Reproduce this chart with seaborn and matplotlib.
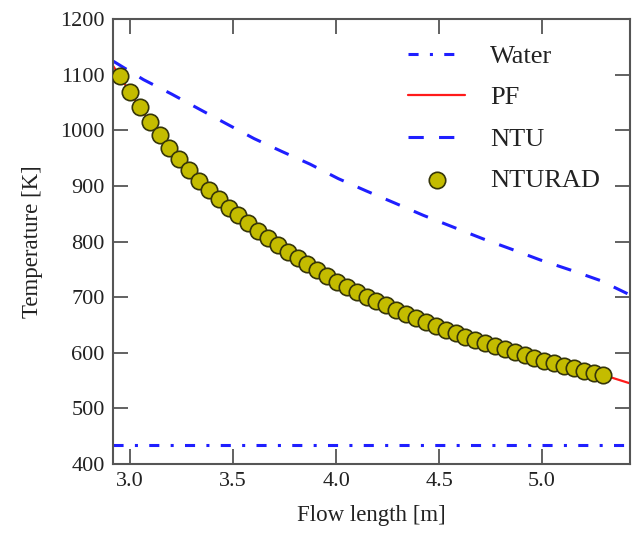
import numpy as np
import pandas as pd
import seaborn as sns
import matplotlib.pyplot as plt

# NTURAD markers
nturad_x = [2.951, 2.999, 3.047, 3.095, 3.143, 3.191, 3.238, 3.286, 3.334, 3.382,
            3.430, 3.478, 3.526, 3.574, 3.622, 3.670, 3.717, 3.765, 3.813, 3.861,
            3.909, 3.957, 4.005, 4.053, 4.101, 4.149, 4.196, 4.244, 4.292, 4.340,
            4.388, 4.436, 4.484, 4.532, 4.580, 4.628, 4.675, 4.723, 4.771, 4.819,
            4.867, 4.915, 4.963, 5.011, 5.059, 5.107, 5.154, 5.202, 5.250, 5.298]
nturad_y = [1097, 1068, 1041, 1015, 991, 969, 948, 928, 909, 892,
            876, 861, 847, 833, 819, 806, 794, 782, 770, 759,
            748, 738, 728, 719, 710, 701, 693, 685, 677, 669,
            662, 655, 648, 641, 635, 629, 623, 617, 612, 606,
            601, 596, 591, 586, 581, 577, 572, 568, 564, 560]

# PF curve: same path as NTURAD, extended to the axis edges
pf_x = [2.917] + nturad_x + [5.427]
pf_y = [1116] + nturad_y + [545]

# NTU curve
ntu_x = [2.919, 3.065, 3.202, 3.336, 3.461, 3.602, 3.736, 3.874, 4.011, 4.146,
         4.286, 4.424, 4.568, 4.712, 4.853, 4.990, 5.136, 5.282, 5.427]
ntu_y = [1124, 1091, 1065, 1038, 1013, 985, 962, 939, 913, 891,
         869, 847, 826, 805, 786, 767, 749, 730, 704]

# Water temperature
water_x = [2.917, 5.427]
water_y = [434, 434]

sns.set_theme(style="ticks")
plt.rcParams['font.family'] = ['Liberation Serif', 'DejaVu Serif']

fig = plt.figure(figsize=(6.38, 5.37), dpi=100)
ax = fig.add_axes([0.1771, 0.1359, 0.8104, 0.8287])

blue = '#1f1fff'
sns.lineplot(x=water_x, y=water_y, ax=ax, color=blue, lw=2.2, label='Water',
             dashes=False, linestyle=(0, (3.3, 3.7, 1, 3.7)))
sns.lineplot(x=pf_x, y=pf_y, ax=ax, color='#ff1a1a', lw=1.6, label='PF', sort=False)
sns.lineplot(x=ntu_x, y=ntu_y, ax=ax, color=blue, lw=2.2, label='NTU',
             linestyle=(0, (5, 5)))
sns.scatterplot(x=nturad_x, y=nturad_y, ax=ax, color='#c4bc00', s=140,
                edgecolor='#35350a', linewidth=1.2, label='NTURAD', zorder=5)

ax.set_xlim(2.917, 5.427)
ax.set_ylim(400, 1200)
ax.set_xticks([3.0, 3.5, 4.0, 4.5, 5.0])
ax.set_xticklabels(['3.0', '3.5', '4.0', '4.5', '5.0'])
ax.set_yticks(range(400, 1201, 100))
ax.tick_params(direction='in', length=11, width=1.3, color='#555555',
               labelsize=16, top=True, right=True, pad=6, labelcolor='#222222')

for sp in ax.spines.values():
    sp.set_visible(True)
    sp.set_color('#555555')
    sp.set_linewidth(1.5)

ax.set_xlabel('Flow length [m]', fontsize=16.5, color='#222222', labelpad=10)
ax.set_ylabel('Temperature [K]', fontsize=16.5, color='#222222', labelpad=12)

leg = ax.legend(loc='upper right', frameon=False, fontsize=19, handlelength=2.15,
                labelspacing=0.68, handletextpad=0.95, borderaxespad=0.5,
                bbox_to_anchor=(0.988, 0.996), markerscale=1.0)
for t in leg.get_texts():
    t.set_color('#222222')

fig.savefig('out.png', dpi=100)
